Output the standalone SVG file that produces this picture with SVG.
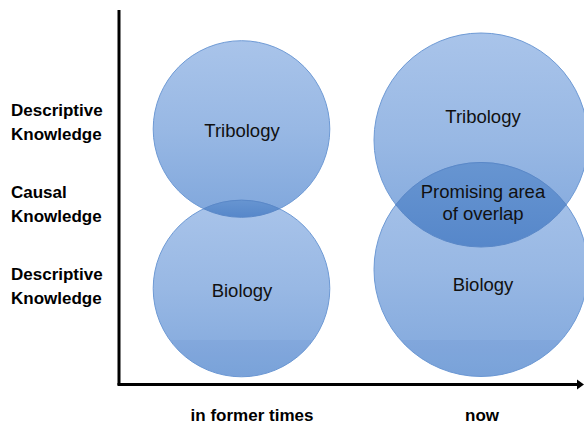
<svg xmlns="http://www.w3.org/2000/svg" width="584" height="425" viewBox="0 0 584 425">
<style>
.lbl{font-family:"Liberation Sans",Arial,sans-serif;font-weight:bold;font-size:17px;fill:#000}
.in{font-family:"Liberation Sans",Arial,sans-serif;font-size:18.5px;fill:#111;text-anchor:middle}
.circ{fill:url(#g);stroke:#6e9ad5;stroke-width:1}
.lens{fill:url(#gl);stroke:#5a88c8;stroke-width:1}
.band{fill:#2f63b8;opacity:0.07}
.axis{stroke:#000;stroke-width:3;fill:none}
</style>
<defs>
<linearGradient id="g" x1="0" y1="0" x2="0" y2="1">
<stop offset="0" stop-color="#a9c4ea"/>
<stop offset="0.5" stop-color="#98b8e4"/>
<stop offset="1" stop-color="#80a7dc"/>
</linearGradient>
<linearGradient id="gl" x1="0" y1="0" x2="0" y2="1">
<stop offset="0" stop-color="#6795d1"/>
<stop offset="1" stop-color="#5687ca"/>
</linearGradient>
<clipPath id="cl1"><circle cx="241.5" cy="288.5" r="88.3"/></clipPath>
<clipPath id="cl2"><circle cx="481" cy="269.5" r="107"/></clipPath>
</defs>

<g id="axes">
<line class="axis" x1="119" y1="10" x2="119" y2="385"/>
<line class="axis" x1="117.5" y1="384.5" x2="579" y2="384.5"/>
<path d="M577 379.5 L584 384.5 L577 389.5 Z" fill="#000"/>
</g>

<g id="labels">
<text class="lbl" x="11" y="116">Descriptive</text>
<text class="lbl" x="11" y="140">Knowledge</text>
<text class="lbl" x="11" y="198">Causal</text>
<text class="lbl" x="11" y="222">Knowledge</text>
<text class="lbl" x="11" y="280">Descriptive</text>
<text class="lbl" x="11" y="304">Knowledge</text>
<text class="lbl" x="252" y="421" text-anchor="middle">in former times</text>
<text class="lbl" x="482" y="421" text-anchor="middle">now</text>
</g>

<g id="former-tribology">
<circle class="circ" cx="241.5" cy="129" r="88.3"/>
<text class="in" x="242" y="137">Tribology</text>
</g>
<g id="former-biology">
<circle class="circ" cx="241.5" cy="288.5" r="88.3"/>
<rect class="band" x="150" y="340" width="185" height="40" clip-path="url(#cl1)"/>
<text class="in" x="242" y="297">Biology</text>
</g>
<g id="former-overlap">
<path class="lens" d="M203.6 208.75 A88.3 88.3 0 0 1 279.4 208.75 A88.3 88.3 0 0 1 203.6 208.75 Z"/>
</g>

<g id="now-tribology">
<circle class="circ" cx="481" cy="140" r="107"/>
<text class="in" x="483" y="123">Tribology</text>
</g>
<g id="now-biology">
<circle class="circ" cx="481" cy="269.5" r="107"/>
<rect class="band" x="370" y="340" width="220" height="40" clip-path="url(#cl2)"/>
<text class="in" x="483" y="290.5">Biology</text>
</g>
<g id="now-overlap">
<path class="lens" d="M395.8 204.75 A107 107 0 0 1 566.2 204.75 A107 107 0 0 1 395.8 204.75 Z"/>
<text class="in" x="483" y="197.5">Promising area</text>
<text class="in" x="483" y="220">of overlap</text>
</g>
</svg>
